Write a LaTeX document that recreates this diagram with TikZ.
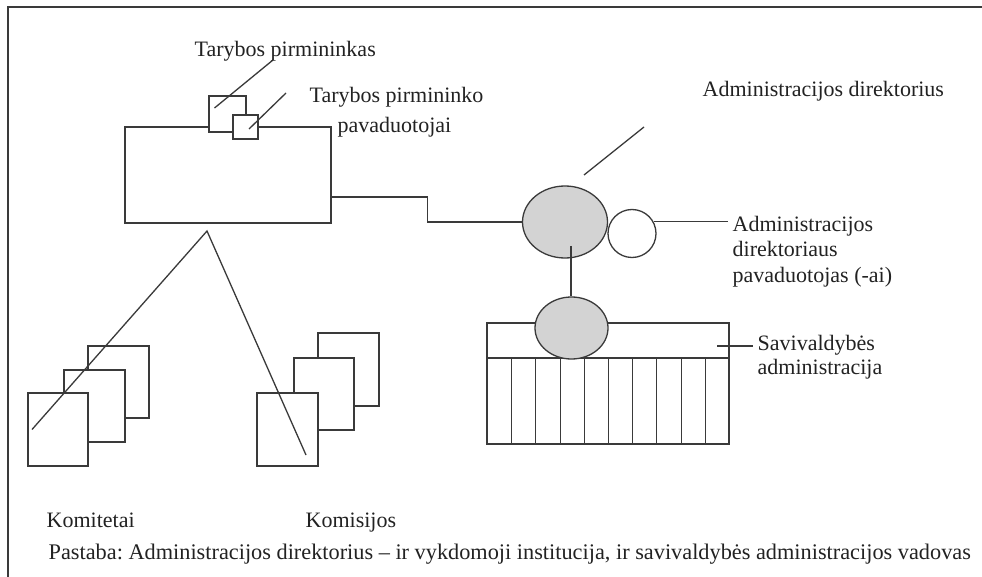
\documentclass[tikz,border=0pt]{standalone}
\usepackage{fontspec}
\setmainfont{Liberation Serif}
\usetikzlibrary{shapes.geometric}
\definecolor{ln}{HTML}{3A3A3A}
\definecolor{tx}{HTML}{222222}
\definecolor{gfill}{HTML}{D3D3D3}
\frenchspacing
\begin{document}
\begin{tikzpicture}[x=1pt,y=-1pt,line width=1.3pt,
  lbl/.style={font=\fontsize{22}{26}\selectfont,inner sep=0pt,anchor=base west,text=tx},
  sheet/.style={draw=ln,fill=white,inner sep=0pt,rectangle},
  oval/.style={draw=ln,fill=gfill,inner sep=0pt,ellipse},
  ring/.style={draw=ln,fill=white,inner sep=0pt,circle},
  wire/.style={draw=ln,line width=1.3pt}]
\useasboundingbox (0,0) rectangle (982,577);
\fill[white] (0,0) rectangle (982,577);
% frame
\draw[wire,line width=1.6pt] (8,577) -- (8,7) -- (982,7);

% council
\node[sheet,minimum width=206pt,minimum height=96pt] (council) at (228,175) {};
\node[sheet,minimum width=37pt,minimum height=36pt] (chair) at (227.5,114) {};
\node[sheet,minimum width=25pt,minimum height=24pt] (vice) at (245.5,127) {};
\coordinate (chairEnd) at (273,60);
\coordinate (viceEnd) at (286,93);
\draw[wire] ([xshift=-13pt,yshift=6pt]chair.center) -- (chairEnd);
\draw[wire] ([xshift=3.5pt,yshift=-2pt]vice.center) -- (viceEnd);
\node[lbl] (tChair) at (194,57) {Tarybos pirmininkas};
\node[lbl] (tVice1) at (309,103) {Tarybos pirmininko};
\node[lbl] (tVice2) at (337,133) {pavaduotojai};

% director
\node[oval,minimum width=85pt,minimum height=72pt] (dir) at (565,222) {};
\node[ring,minimum size=48pt] (dep) at (632,233.5) {};
\draw[wire] ([yshift=-22pt]council.east) -- ++(96,0) |- (dir.west);
\coordinate (dirA) at (584,175);
\coordinate (dirB) at (644,127);
\draw[wire] (dirA) -- (dirB);
\node[lbl] (tDir) at (702,97) {Administracijos direktorius};
\node[lbl] (tDep1) at (732,232) {Administracijos};
\node[lbl] (tDep2) at (732,257) {direktoriaus};
\node[lbl] (tDep3) at (732,283) {pavaduotojas (-ai)};
\draw[wire] (dep.29) -- ([xshift=-4pt]dep.29 -| tDep1.west);

% administration
\node[sheet,minimum width=242pt,minimum height=121pt] (adm) at (608,383.5) {};
\draw[wire] (adm.west |- 0,358) -- (adm.east |- 0,358);
\foreach \k in {1,...,9} {
  \draw[wire] ({round(487+24.2*\k)+0.5},358) -- ({round(487+24.2*\k)+0.5},444);
}
\node[oval,minimum width=73pt,minimum height=62pt] (admHead) at (571.5,328) {};
\draw[wire] (571,246) -- (admHead.north -| 571,0);
\coordinate (admA) at (717,346);
\node[lbl] (tAdm1) at (757,350) {Savivaldybės};
\node[lbl] (tAdm2) at (757,374) {administracija};
\draw[wire] (admA) -- ([xshift=-4pt]admA -| tAdm1.west);

% committees
\node[sheet,minimum width=61pt,minimum height=72pt] (kom3) at (118.5,382) {};
\node[sheet,minimum width=61pt,minimum height=72pt] (kom2) at (94.5,406) {};
\node[sheet,minimum width=60pt,minimum height=73pt] (kom1) at (58,429.5) {};
\node[sheet,minimum width=61pt,minimum height=73pt] (kms3) at (348.5,369.5) {};
\node[sheet,minimum width=60pt,minimum height=72pt] (kms2) at (324,394) {};
\node[sheet,minimum width=61pt,minimum height=73pt] (kms1) at (287.5,429.5) {};
\coordinate (apex) at (207,231);
\draw[wire] ([xshift=-26pt]kom1.center) -- (apex) -- ([xshift=18.5pt,yshift=-25.5pt]kms1.center);

\node[lbl] (tKom) at (46,527) {Komitetai};
\node[lbl] (tKms) at (305,527) {Komisijos};
\node[lbl,font=\fontsize{22.3}{26}\selectfont] (tNote) at (48,559) {Pastaba: Administracijos direktorius – ir vykdomoji institucija, ir savivaldybės administracijos vadovas};
\end{tikzpicture}
\end{document}
